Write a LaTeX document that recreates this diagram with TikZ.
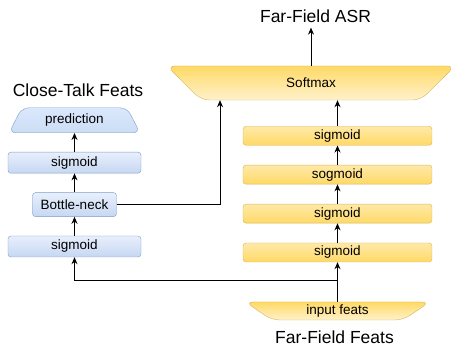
\documentclass[tikz,border=0pt]{standalone}
\usepackage{fontspec}
\setmainfont{Liberation Sans}
\usepackage{tikz}
\usetikzlibrary{arrows.meta,positioning,shapes.geometric}

\definecolor{yelline}{HTML}{D6B656}
\definecolor{yeltop}{HTML}{FFE9A8}
\definecolor{yelbase}{HTML}{FFD966}
\definecolor{yellight}{HTML}{FFF2CC}
\definecolor{blueline}{HTML}{7C9CC8}
\definecolor{bluetop}{HTML}{E8EFFC}
\definecolor{bluebase}{HTML}{C6D7F2}
\definecolor{bluelight}{HTML}{DAE8FC}

\begin{document}
\begin{tikzpicture}[x=1pt,y=-1pt,
    >={Stealth[length=7pt,width=6pt]},
    yelcell/.style={rectangle,rounded corners=3pt,draw=yelline,top color=yeltop,bottom color=yelbase,
        minimum width=189pt,minimum height=19pt,inner sep=0pt,font=\fontsize{13.5}{15}\selectfont},
    bluecell/.style={rectangle,rounded corners=3pt,draw=blueline,top color=bluetop,bottom color=bluebase,
        minimum height=21pt,inner sep=0pt,font=\fontsize{13.5}{15}\selectfont},
    yeltrap/.style={trapezium,trapezium stretches=true,rounded corners=8pt,draw=yelline,
        top color=yelbase,bottom color=yellight,inner sep=0pt,font=\fontsize{13.5}{15}\selectfont},
    bluetrap/.style={trapezium,trapezium stretches=true,rounded corners=7pt,draw=blueline,
        top color=bluelight,bottom color=bluelight!85!blueline,inner sep=0pt,font=\fontsize{13.5}{15}\selectfont},
    title/.style={inner sep=5pt,font=\fontsize{17.5}{20}\selectfont},
    link/.style={line width=0.9pt,black},
   ]
    \useasboundingbox (0,0) rectangle (451,347);

    % far-field stack
    \node (inp)  [yeltrap,minimum width=185pt,minimum height=18pt,trapezium angle=135] at (337.5,311) {input feats};
    \node (sig4) [yelcell] at (337.5,252.5) {sigmoid};
    \node (sig3) [yelcell,above=19.5pt of sig4] {sigmoid};
    \node (sig2) [yelcell,above=19.5pt of sig3] {sogmoid};
    \node (sig1) [yelcell,above=19.5pt of sig2] {sigmoid};
    \node (soft) [yeltrap,minimum width=290pt,minimum height=34pt,trapezium angle=128] at (311,83) {Softmax};

    % close-talk stack
    \node (lsig1) [bluecell,minimum width=133pt] at (74.5,246.5) {sigmoid};
    \node (bneck) [bluecell,minimum width=84pt,minimum height=24pt,above=19pt of lsig1] {Bottle-neck};
    \node (lsig2) [bluecell,minimum width=133pt,above=19pt of bneck] {sigmoid};
    \node (pred)  [bluetrap,minimum width=132pt,minimum height=25pt,trapezium angle=60,above=19pt of lsig2] {prediction};

    % titles
    \node (asr)   [title] at (315.5,16) {Far-Field ASR};
    \node (ctalk) [title] at (78,90) {Close-Talk Feats};
    \node (ffeat) [title] at (334.5,337) {Far-Field Feats};

    \coordinate (split) at (337.5,280);

    \draw[link,->] (inp.north) -- (sig4.south);
    \draw[link,->] (sig4) -- (sig3);
    \draw[link,->] (sig3) -- (sig2);
    \draw[link,->] (sig2) -- (sig1);
    \draw[link,->] (sig1.north) -- (sig1.north |- soft.south);
    \draw[link,->] (soft.north) -- (soft.north |- asr.south);

    \draw[link,->] (split) -| (lsig1.south);
    \draw[link,->] (lsig1) -- (bneck);
    \draw[link,->] (bneck) -- (lsig2);
    \draw[link,->] (lsig2) -- (pred);
    \draw[link,->] (bneck.east) -| ([xshift=-91pt]soft.south);
   \end{tikzpicture}
\end{document}
